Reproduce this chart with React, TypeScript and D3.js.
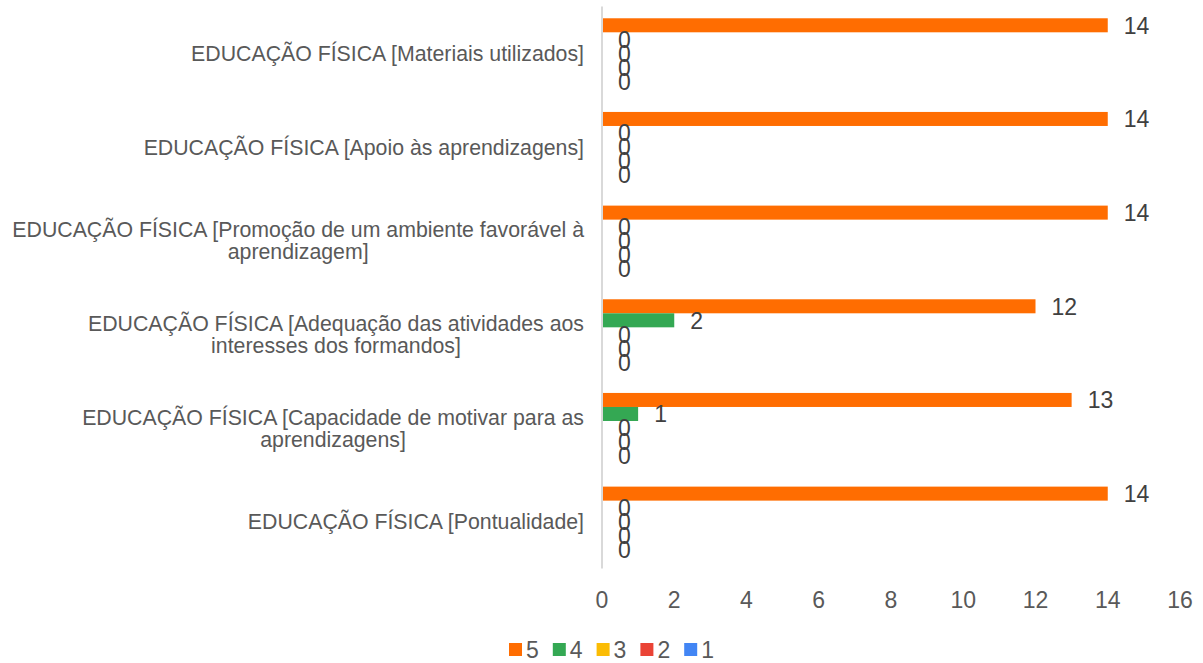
import React, { useEffect, useRef } from "react";
import * as d3 from "d3";

const categories: string[][] = [
  ["EDUCAÇÃO FÍSICA [Materiais utilizados]"],
  ["EDUCAÇÃO FÍSICA [Apoio às aprendizagens]"],
  ["EDUCAÇÃO FÍSICA [Promoção de um ambiente favorável à", "aprendizagem]"],
  ["EDUCAÇÃO FÍSICA [Adequação das atividades aos", "interesses dos formandos]"],
  ["EDUCAÇÃO FÍSICA [Capacidade de motivar para as", "aprendizagens]"],
  ["EDUCAÇÃO FÍSICA [Pontualidade]"],
];
const seriesNames = ["5", "4", "3", "2", "1"];
const seriesColors = ["#FF6D01", "#34A853", "#FBBC04", "#EA4335", "#4285F4"];
const values5 = [14, 14, 14, 12, 13, 14];
const values4 = [0, 0, 0, 2, 1, 0];
const values3 = [0, 0, 0, 0, 0, 0];
const values2 = [0, 0, 0, 0, 0, 0];
const values1 = [0, 0, 0, 0, 0, 0];
const seriesValues = [values5, values4, values3, values2, values1];
const xTicks = [0, 2, 4, 6, 8, 10, 12, 14, 16];

export default function App() {
  const ref = useRef<SVGSVGElement>(null);
  useEffect(() => {
    const svg = d3.select(ref.current);
    svg.selectAll("*").remove();
    const W = 1203, H = 663;
    const left = 602, right = 1180, top = 6.5, bottom = 568.5;
    const font = "'Liberation Sans', Arial, sans-serif";
    const x = d3.scaleLinear().domain([0, 16]).range([left, right]);
    const y = d3.scaleBand<number>().domain(d3.range(categories.length)).range([top, bottom]);
    const inner = d3.scaleBand<number>().domain(d3.range(seriesNames.length))
      .range([0, y.bandwidth()]).paddingOuter(0.84).paddingInner(0);

    svg.attr("width", W).attr("height", H);
    svg.append("rect").attr("width", W).attr("height", H).attr("fill", "#fff");

    // bars
    seriesValues.forEach((vals, si) => {
      const g = svg.append("g");
      vals.forEach((v, ci) => {
        const by = y(ci)! + inner(si)!;
        g.append("rect")
          .attr("x", x(0)).attr("y", by)
          .attr("width", x(v) - x(0)).attr("height", inner.bandwidth())
          .attr("fill", seriesColors[si]);
        g.append("text")
          .attr("x", x(v) + 16).attr("y", by + inner.bandwidth() / 2)
          .attr("dy", "0.36em")
          .attr("font-family", font).attr("font-size", 23)
          .attr("fill", "#404040")
          .text(v);
      });
    });

    // axis line
    svg.append("line").attr("x1", left).attr("x2", left).attr("y1", top).attr("y2", bottom)
      .attr("stroke", "#d9d9d9").attr("stroke-width", 2);

    // x tick labels
    svg.append("g").selectAll("text").data(xTicks).join("text")
      .attr("x", (d) => x(d)).attr("y", 600).attr("dy", "0.36em")
      .attr("text-anchor", "middle")
      .attr("font-family", font).attr("font-size", 23).attr("fill", "#595959")
      .text((d) => d);

    // category labels
    categories.forEach((lines, ci) => {
      const cy = y(ci)! + y.bandwidth() / 2;
      const lh = 22;
      const g = svg.append("g");
      const texts = lines.map((l) =>
        g.append("text").attr("font-family", font).attr("font-size", 21.3)
          .attr("fill", "#595959").text(l)
      );
      const widths = texts.map((t) => (t.node() as SVGTextElement).getComputedTextLength());
      const maxW = Math.max(...widths);
      const centerX = 584 - maxW / 2;
      texts.forEach((t, li) => {
        t.attr("x", centerX).attr("text-anchor", "middle")
          .attr("y", cy + (li - (lines.length - 1) / 2) * lh).attr("dy", "0.36em");
      });
    });

    // legend
    const lg = svg.append("g");
    seriesNames.forEach((n, i) => {
      const lx = 509 + i * 43.8;
      lg.append("rect").attr("x", lx).attr("y", 643).attr("width", 13).attr("height", 13)
        .attr("fill", seriesColors[i]);
      lg.append("text").attr("x", lx + 17).attr("y", 649.5).attr("dy", "0.36em")
        .attr("font-family", font).attr("font-size", 23).attr("fill", "#595959").text(n);
    });
  }, []);
  return <svg ref={ref} style={{ display: "block", position: "absolute", left: 0, top: 0 }} />;
}
